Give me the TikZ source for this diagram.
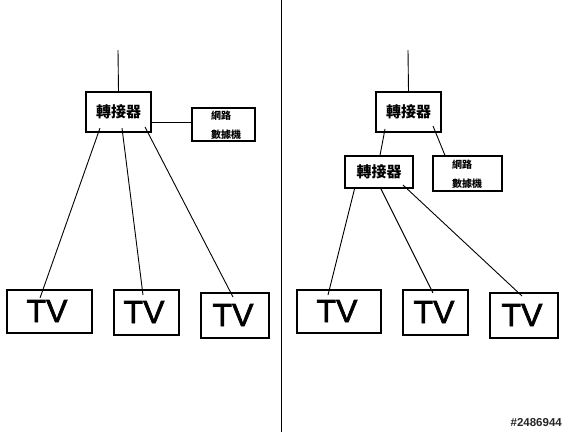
\documentclass[tikz,border=0pt]{standalone}
\usepackage{fontspec}
\setmainfont{Liberation Sans}
\newfontfamily\cjk{Noto Sans CJK TC}
\newfontfamily\tvfont[FakeBold=2]{Liberation Sans}
\begin{document}
\begin{tikzpicture}[x=1pt,y=-1pt,
  box/.style={draw=black,line width=1.1pt,inner sep=0pt,fill=none},
  conn/.style={draw=black,line width=0.9pt},
  swtext/.style={font=\cjk\bfseries\fontsize{15}{15}\selectfont,inner sep=0pt},
  nettext/.style={font=\cjk\bfseries\fontsize{10}{19}\selectfont,align=left,inner sep=0pt,anchor=west},
  tvtext/.style={font=\tvfont\fontsize{32}{32}\selectfont,inner sep=0pt}]
\useasboundingbox[fill=white] (0,0) rectangle (567,432);
% divider
\coordinate (dtop) at (281,0);
\coordinate (dbot) at (281,432);
\draw[conn] (dtop) -- (dbot);

% ---------- left panel ----------
\node[box,minimum width=65pt,minimum height=40pt] (swL) at (118.5,112) {};
\node[swtext] (swLt) at (118.5,112) {轉接器};
\coordinate (topL) at (118,50);
\draw[conn] (topL) -- (swL.north);
\node[box,minimum width=63pt,minimum height=33pt] (netL) at (223.5,124.5) {};
\node[nettext] (netLt) at (211,125.5) {網路\\數據機};
\draw[conn] (swL.east |- 0,122) -- (netL.west |- 0,122);

\node[box,minimum width=85pt,minimum height=43pt] (tvL1) at (49.5,311.5) {};
\node[box,minimum width=65pt,minimum height=45pt] (tvL2) at (146.5,312.5) {};
\node[box,minimum width=68pt,minimum height=45pt] (tvL3) at (235,315.5) {};
\node[tvtext] (tvL1t) at (47,311) {TV};
\node[tvtext] (tvL2t) at (144,312) {TV};
\node[tvtext] (tvL3t) at (233,315) {TV};

\coordinate (aL1) at (100,128);
\coordinate (aL2) at (122,128);
\coordinate (aL3) at (145,127);
\coordinate (bL1) at (40,298);
\coordinate (bL2) at (143,295);
\coordinate (bL3) at (233,297);
\draw[conn] (aL1) -- (bL1);
\draw[conn] (aL2) -- (bL2);
\draw[conn] (aL3) -- (bL3);

% ---------- right panel ----------
\node[box,minimum width=65pt,minimum height=40pt] (swRA) at (408.5,112) {};
\node[swtext] (swRAt) at (408.5,112) {轉接器};
\coordinate (topR) at (408,50);
\draw[conn] (topR) -- (swRA.north);
\node[box,minimum width=68pt,minimum height=32pt] (swRB) at (379,172) {};
\node[swtext] (swRBt) at (379,172) {轉接器};
\node[box,minimum width=69pt,minimum height=35pt] (netR) at (467.5,173.5) {};
\node[nettext] (netRt) at (452,174) {網路\\數據機};

\coordinate (aA1) at (385,129);
\coordinate (aA2) at (433,126);
\draw[conn] (aA1) -- (swRB.north -| 380,0);
\draw[conn] (aA2) -- (netR.north -| 445,0);

\node[box,minimum width=84pt,minimum height=43pt] (tvR1) at (339,311.5) {};
\node[box,minimum width=65pt,minimum height=45pt] (tvR2) at (435.5,312.5) {};
\node[box,minimum width=68pt,minimum height=45pt] (tvR3) at (524,315.5) {};
\node[tvtext] (tvR1t) at (337,311) {TV};
\node[tvtext] (tvR2t) at (434,312) {TV};
\node[tvtext] (tvR3t) at (522,315) {TV};

\coordinate (aB1) at (355,187);
\coordinate (aB2) at (380,187);
\coordinate (aB3) at (403,185);
\coordinate (bR1) at (328,295);
\coordinate (bR2) at (433,293);
\coordinate (bR3) at (522,296);
\draw[conn] (aB1) -- (bR1);
\draw[conn] (aB2) -- (bR2);
\draw[conn] (aB3) -- (bR3);

% watermark
\node[font=\bfseries\fontsize{11.5}{11.5}\selectfont,text=black!85,anchor=east,inner sep=0pt] (wm) at (562,423) {\#2486944};
\end{tikzpicture}
\end{document}
